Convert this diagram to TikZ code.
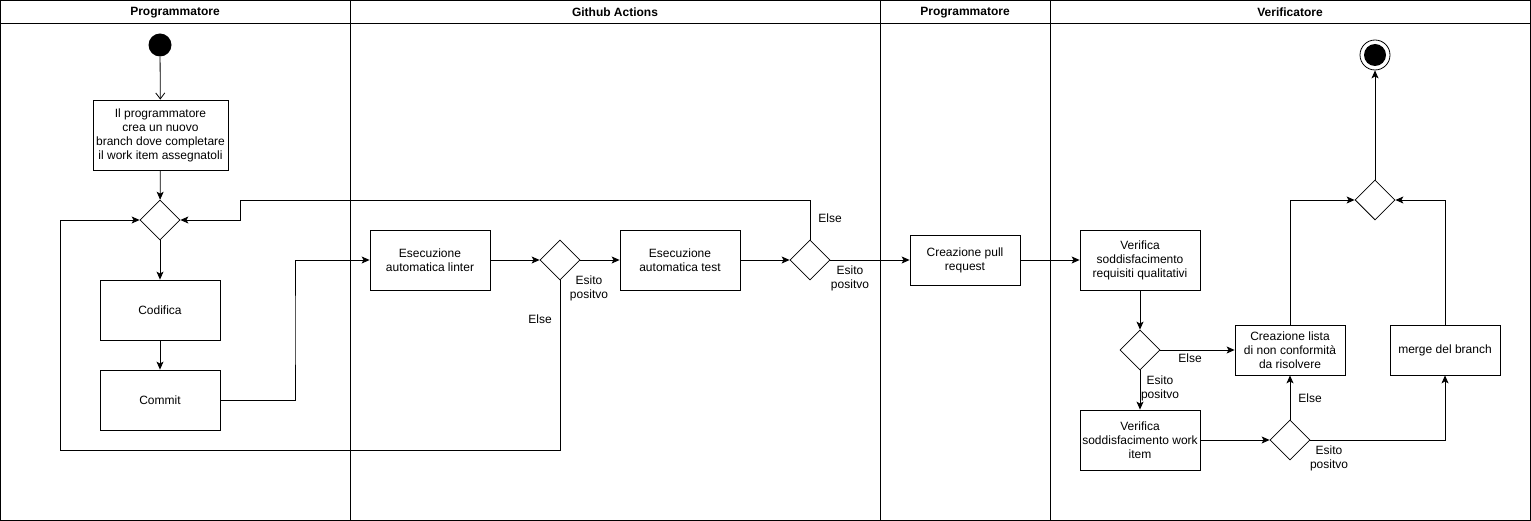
\documentclass[tikz,border=0pt]{standalone}
\usepackage{fontspec}
\setmainfont{Liberation Sans}
\usetikzlibrary{positioning,shapes.geometric,arrows.meta}
\tikzstyle{activity} = [x = 1pt, y = -1pt, every node/.style={font=\fontsize{12}{14}\selectfont, align=center}]
\tikzstyle{laneLine} = [color=black, line width=.8pt]
\tikzstyle{actionBox} = [draw, line width=.8pt, inner sep=2pt]
\tikzstyle{choice} = [draw, diamond, line width=.8pt, minimum width=40pt, minimum height=40pt, inner sep=0pt]
\tikzstyle{flow} = [line width=.8pt, -{Stealth[length=8pt, width=7pt, inset=2pt]}]
\tikzstyle{guard} = [font=\fontsize{12}{14}\selectfont]
\tikzstyle{laneTitle} = [font=\bfseries\fontsize{12}{14}\selectfont]
\newcommand{\actionNode}[6]{\node [actionBox, minimum width=#4pt, minimum height=#5pt] (#1) at (#2,#3) {#6};}

\begin{document}
\begin{tikzpicture}[activity]
  \useasboundingbox (0,0) rectangle (1531,521);

  % corsie
  \draw [laneLine] (.5,.5) rectangle (1530.5,520.5);
  \draw [laneLine] (.5,23) -- (1530.5,23);
  \foreach \lane in {350,880,1050} {
    \draw [laneLine] (\lane,.5) -- (\lane,520.5);
  }
  \node [laneTitle] (titleProg) at (175,12.5) {Programmatore};
  \node [laneTitle] (titleGit) at (615,12.5) {Github Actions};
  \node [laneTitle] (titleProgB) at (965,12.5) {Programmatore};
  \node [laneTitle] (titleVer) at (1290,12.5) {Verificatore};

  % programmatore
  \node [circle, fill=black, minimum size=23pt, inner sep=0pt] (start) at (160,45) {};
  \actionNode{branch}{160.5}{135}{135}{70}{Il programmatore\\crea un nuovo\\branch dove completare\\il work item assegnatoli}
  \node [choice] (mergeA) at (160,220) {};
  \actionNode{codifica}{160}{310}{120}{60}{Codifica}
  \actionNode{commit}{160}{400}{120}{60}{Commit}

  % github actions
  \actionNode{linter}{430}{260}{120}{60}{Esecuzione\\automatica linter}
  \node [choice] (checkLint) at (560,260) {};
  \actionNode{test}{680}{260}{120}{60}{Esecuzione\\automatica test}
  \node [choice] (checkTest) at (810,260) {};

  % pull request
  \actionNode{pull}{965}{260}{110}{50}{Creazione pull\\request}

  % verificatore
  \actionNode{verReq}{1140}{260}{120}{60}{Verifica\\soddisfacimento\\requisiti qualitativi}
  \node [choice] (checkReq) at (1140,350) {};
  \actionNode{lista}{1290}{350}{110}{50}{Creazione lista\\di non conformit\`a\\da risolvere}
  \actionNode{verWork}{1140}{440}{120}{60}{Verifica\\soddisfacimento work\\item}
  \node [choice] (checkWork) at (1290,440) {};
  \actionNode{mergeBranch}{1445}{350}{110}{50}{merge del branch}
  \node [choice] (mergeB) at (1375,200) {};
  \node [circle, draw, line width=.8pt, minimum size=30pt, inner sep=0pt] (stop) at (1375,55) {};
  \node [circle, fill=black, minimum size=22pt, inner sep=0pt] (stopDot) at (1375,55) {};

  \coordinate (loopL) at (60,450);
  \coordinate (backR) at (810,200);
  \coordinate (backL) at (240,200);
  \coordinate (jog) at (295,330);

  % frecce
  \draw [line width=.8pt, -{Straight Barb[length=6pt, width=9pt]}] (start) -- (branch);
  \draw [flow] (branch) -- (mergeA);
  \draw [flow] (mergeA) -- (codifica);
  \draw [flow] (codifica) -- (commit);
  \draw [flow] (commit.east) -| (jog) |- (linter.west);
  \draw [flow] (linter) -- (checkLint);
  \draw [flow] (checkLint) -- (test);
  \draw [flow] (checkLint.south) |- (loopL) |- (mergeA.west);
  \draw [flow] (test) -- (checkTest);
  \draw [flow] (checkTest.north) -- (backR) -- (backL) |- (mergeA.east);
  \draw [flow] (checkTest) -- (pull);
  \draw [flow] (pull) -- (verReq);
  \draw [flow] (verReq) -- (checkReq);
  \draw [flow] (checkReq) -- (lista);
  \draw [flow] (checkReq) -- (verWork);
  \draw [flow] (verWork) -- (checkWork);
  \draw [flow] (checkWork) -- (lista);
  \draw [flow] (checkWork.east) -| (mergeBranch.south);
  \draw [flow] (lista.north) |- (mergeB.west);
  \draw [flow] (mergeBranch.north) |- (mergeB.east);
  \draw [flow] (mergeB) -- (stop);

  % etichette
  \node [guard] (lintOk) at (589,288) {Esito\\positvo};
  \node [guard] (lintElse) at (540,319) {Else};
  \node [guard] (testElse) at (830,218) {Else};
  \node [guard] (testOk) at (850,278) {Esito\\positvo};
  \node [guard] (reqElse) at (1190,358) {Else};
  \node [guard] (reqOk) at (1160,388) {Esito\\positvo};
  \node [guard] (workElse) at (1310,398) {Else};
  \node [guard] (workOk) at (1329,458) {Esito\\positvo};
\end{tikzpicture}
\end{document}
